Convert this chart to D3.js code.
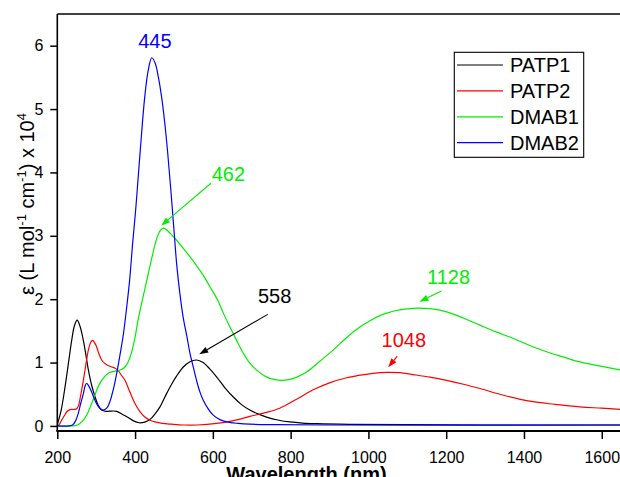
<!DOCTYPE html>
<html><head><meta charset="utf-8">
<script src="https://cdn.jsdelivr.net/npm/d3@7/dist/d3.min.js"></script>
<style>
html,body{margin:0;padding:0;background:#fff;overflow:hidden}
text{font-family:"Liberation Sans",Arial,sans-serif}
</style></head>
<body>
<svg id="chart" width="620" height="477"></svg>
<script>
// ---- data (wavelength nm, epsilon x 10^4) ----
const patp1Wl  = [200,210,220,230,237,244,251,258,267,274,280,288,297,305,314,325,340,353,368,383,396,410,425,438,450,464,481,495,507,524,540,558,575,592,610,630,652,673,695,716,738,770,798,830,867,950,1100,1300,1650];
const patp1Eps = [0.02,0.25,0.62,1.05,1.35,1.58,1.67,1.58,1.35,1.10,0.88,0.65,0.46,0.33,0.25,0.23,0.235,0.23,0.18,0.13,0.08,0.05,0.06,0.10,0.18,0.30,0.51,0.67,0.79,0.93,1.01,1.04,1.00,0.90,0.77,0.61,0.46,0.34,0.25,0.19,0.14,0.09,0.063,0.045,0.035,0.025,0.02,0.015,0.015];

const patp2Wl  = [200,205,211,218,224,230,237,244,250,255,260,267,273,280,286,291,296,301,307,314,323,332,340,349,357,365,374,387,400,412,425,438,451,470,494,524,560,610,650,695,735,772,815,858,900,944,990,1030,1048,1080,1115,1158,1201,1250,1287,1350,1415,1480,1544,1600,1650];
const patp2Eps = [0.0,0.02,0.09,0.16,0.22,0.25,0.26,0.26,0.27,0.33,0.48,0.72,0.95,1.20,1.32,1.35,1.31,1.25,1.14,1.04,0.98,0.95,0.93,0.91,0.87,0.80,0.72,0.53,0.35,0.23,0.14,0.09,0.063,0.04,0.027,0.015,0.015,0.04,0.08,0.15,0.21,0.28,0.42,0.57,0.68,0.76,0.81,0.84,0.845,0.84,0.81,0.77,0.72,0.65,0.59,0.48,0.39,0.34,0.30,0.28,0.26];

const dmab1Wl  = [200,240,250,258,267,278,288,297,305,318,331,345,353,365,374,383,391,400,408,421,432,443,452,460,467,473,480,490,507,524,541,558,575,592,612,627,644,661,678,695,713,730,747,773,795,816,841,875,910,945,978,1010,1030,1047,1080,1115,1128,1158,1201,1245,1287,1330,1373,1415,1458,1500,1544,1600,1650];
const dmab1Eps = [0,0,0.01,0.04,0.09,0.20,0.35,0.49,0.62,0.75,0.83,0.86,0.87,0.89,0.93,1.02,1.16,1.40,1.68,2.05,2.35,2.65,2.88,3.03,3.10,3.12,3.10,3.04,2.93,2.80,2.67,2.53,2.38,2.20,1.99,1.78,1.56,1.35,1.15,0.99,0.88,0.80,0.75,0.72,0.73,0.77,0.85,1.02,1.20,1.40,1.56,1.68,1.74,1.78,1.83,1.855,1.86,1.85,1.80,1.70,1.59,1.48,1.38,1.27,1.17,1.09,1.01,0.94,0.88];

const dmab2Wl  = [200,230,240,247,254,260,267,271,275,280,288,295,301,309,318,327,335,345,354,362,370,378,386,394,400,404,414,425,434,443,452,460,468,476,484,492,502,507,515,524,533,541,550,558,566,575,588,601,618,636,665,695,760,900,1650];
const dmab2Eps = [0,0,0.02,0.08,0.20,0.35,0.51,0.62,0.67,0.64,0.54,0.43,0.35,0.28,0.25,0.28,0.38,0.60,0.87,1.15,1.45,1.85,2.30,2.90,3.30,3.60,4.40,5.20,5.62,5.81,5.72,5.50,5.20,4.80,4.30,3.72,2.93,2.55,2.10,1.70,1.42,1.15,0.92,0.72,0.55,0.41,0.27,0.17,0.10,0.063,0.04,0.027,0.02,0.015,0.015];

const seriesNames  = ["PATP1","PATP2","DMAB1","DMAB2"];
const seriesColors = ["#000000","#ff0000","#00ee00","#0000ff"];
const xTicks = [200,400,600,800,1000,1200,1400,1600];
const yTicks = [0,1,2,3,4,5,6];

// annotations: label, color, text pos (nm, eps), arrow from, arrow to
const annLabels = ["445","462","558","1048","1128"];
const annColors = ["#0000ff","#00ee00","#000000","#ff0000","#00ee00"];
const annText   = [[451,5.96],[640,3.87],[759,1.94],[1091,1.24],[1206,2.24]];
const annFrom   = [null,[595,3.83],[741,1.76],[1074,1.10],[1188,2.13]];
const annTo     = [null,[467,3.16],[565,1.13],[1051,0.925],[1131,1.96]];

// ---- layout ----
const svg = d3.select("#chart");
const mLeft = 57.3, mRight = 621.2, mTop = 14, mBottom = 431;
const x = d3.scaleLinear().domain([200,1650]).range([mLeft,mRight]);
const y = d3.scaleLinear().domain([-0.08,6.5]).range([mBottom,mTop]);

const series = [
  {wl:patp1Wl, eps:patp1Eps},
  {wl:patp2Wl, eps:patp2Eps},
  {wl:dmab1Wl, eps:dmab1Eps},
  {wl:dmab2Wl, eps:dmab2Eps}
];

const defs = svg.append("defs");
defs.append("clipPath").attr("id","clip")
  .append("rect").attr("x",mLeft).attr("y",mTop).attr("width",mRight-mLeft).attr("height",mBottom-mTop);

const line = d3.line().x(d=>x(d[0])).y(d=>y(d[1])).curve(d3.curveCatmullRom.alpha(0.5));
const g = svg.append("g").attr("clip-path","url(#clip)");
series.forEach((s,i)=>{
  g.append("path")
    .datum(s.wl.map((w,k)=>[w,s.eps[k]]))
    .attr("d",line).attr("fill","none")
    .attr("stroke",seriesColors[i]).attr("stroke-width",1.2);
});

// axes
const xAxis = svg.append("g").attr("transform",`translate(0,${mBottom})`)
  .call(d3.axisBottom(x).tickValues(xTicks).tickSize(8).tickPadding(13).tickFormat(d3.format("d")));
const yAxis = svg.append("g").attr("transform",`translate(${mLeft},0)`)
  .call(d3.axisLeft(y).tickValues(yTicks).tickSize(7).tickPadding(7).tickFormat(d3.format("d")));
[xAxis,yAxis].forEach(a=>{
  a.select(".domain").remove();
  a.selectAll("line").attr("stroke","#000").attr("stroke-width",1.5);
  a.selectAll("text").attr("font-size",16).attr("fill","#000")
    .attr("font-family",'"Liberation Sans",Arial,sans-serif');
});
// frame
svg.append("line").attr("x1",mLeft).attr("x2",620).attr("y1",mTop).attr("y2",mTop).attr("stroke","#000").attr("stroke-width",1.6);
svg.append("line").attr("x1",mLeft).attr("x2",mLeft).attr("y1",mTop).attr("y2",mBottom).attr("stroke","#000").attr("stroke-width",1.6);
svg.append("line").attr("x1",mLeft-1).attr("x2",620).attr("y1",mBottom).attr("y2",mBottom).attr("stroke","#000").attr("stroke-width",2.2);

// axis titles
svg.append("text").attr("x",306.5).attr("y",480.5).attr("text-anchor","middle")
  .attr("font-size",20).attr("font-weight","bold").text("Wavelength (nm)");
const yt = svg.append("text").attr("transform","translate(34,204) rotate(-90)")
  .attr("text-anchor","middle").attr("font-size",20);
yt.append("tspan").text("ε (L mol");
yt.append("tspan").attr("font-size",13).attr("dy",-8).text("-1");
yt.append("tspan").attr("dy",8).text(" cm");
yt.append("tspan").attr("font-size",13).attr("dy",-8).text("-1");
yt.append("tspan").attr("dy",8).text(") x 10");
yt.append("tspan").attr("font-size",13).attr("dy",-8).text("4");

// annotations
annLabels.forEach((lab,i)=>{
  svg.append("text").attr("x",x(annText[i][0])).attr("y",y(annText[i][1]))
    .attr("text-anchor","middle").attr("font-size",20).attr("fill",annColors[i]).text(lab);
  if(annFrom[i]){
    const x1=x(annFrom[i][0]), y1=y(annFrom[i][1]), x2=x(annTo[i][0]), y2=y(annTo[i][1]);
    const ang=Math.atan2(y2-y1,x2-x1), L=9, W=3.2;
    const bx=x2-L*Math.cos(ang), by=y2-L*Math.sin(ang);
    svg.append("line").attr("x1",x1).attr("y1",y1).attr("x2",bx).attr("y2",by)
      .attr("stroke",annColors[i]).attr("stroke-width",1.1);
    svg.append("path").attr("fill",annColors[i])
      .attr("d",`M${x2},${y2}L${bx-W*Math.sin(ang)},${by+W*Math.cos(ang)}L${bx+W*Math.sin(ang)},${by-W*Math.cos(ang)}Z`);
  }
});

// legend
const lg = svg.append("g");
lg.append("rect").attr("x",454.3).attr("y",52.3).attr("width",129.4).attr("height",105)
  .attr("fill","#fff").attr("stroke","#000").attr("stroke-width",1.1);
seriesNames.forEach((n,i)=>{
  const yy = 65 + i*25.9;
  lg.append("line").attr("x1",457).attr("x2",503).attr("y1",yy).attr("y2",yy)
    .attr("stroke",seriesColors[i]).attr("stroke-width",1.2);
  lg.append("text").attr("x",510).attr("y",yy+7).attr("font-size",20).attr("fill","#000").text(n);
});
</script>
</body></html>
